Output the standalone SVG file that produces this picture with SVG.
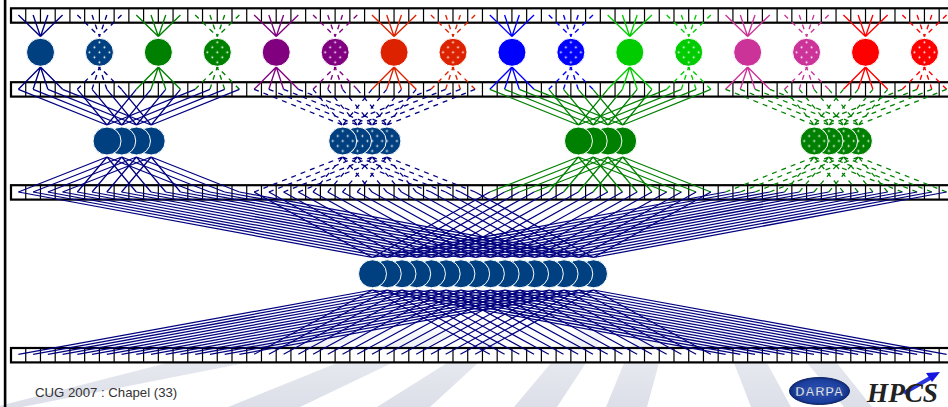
<svg xmlns="http://www.w3.org/2000/svg" xmlns:xlink="http://www.w3.org/1999/xlink" width="948" height="407" viewBox="0 0 948 407">
<style>
.l{fill:none;stroke-linecap:butt}
.fan{stroke-width:1.35}
.mid{stroke-width:1.25}
.d{stroke-dasharray:5 5}
.cell{fill:#fff;stroke:#000;stroke-width:2.2}
.v{stroke:#000;stroke-width:14.4;stroke-dasharray:1.2 13.533;fill:none}
.n{stroke:#fff;stroke-width:1}
text{font-family:"Liberation Sans",Arial,sans-serif}
</style>
<defs>
<linearGradient id="ray" gradientUnits="userSpaceOnUse" x1="0" y1="407" x2="0" y2="320">
<stop offset="0" stop-color="#dcdfe8"/><stop offset=".5" stop-color="#e6e8ef"/><stop offset="1" stop-color="#fff"/>
</linearGradient>
<radialGradient id="dg" cx=".5" cy=".5" r=".55">
<stop offset="0" stop-color="#2f55b8"/><stop offset=".75" stop-color="#1c3f9e"/><stop offset="1" stop-color="#0b1f5e"/>
</radialGradient>
<pattern id="dots" patternUnits="userSpaceOnUse" width="10" height="10" x="-2.5" y="-2.5">
<circle cx="2.5" cy="2.5" r=".95" fill="#fff"/><circle cx="7.5" cy="7.5" r=".95" fill="#fff"/>
</pattern>
<path id="fan" d="M-22.1 15L0 36.5M-7.37 15L0 36.5M7.37 15L0 36.5M22.1 15L0 36.5M-22.1 89.3L0 67M-7.37 89.3L0 67M7.37 89.3L0 67M22.1 89.3L0 67"/>
<path id="m4" d="M18.4 89.3L107 125M77.33 89.3L107 125M136.26 89.3L107 125M195.19 89.3L107 125M18.4 192L107 157M77.33 192L107 157M136.26 192L107 157M195.19 192L107 157"/>
<g id="m16"><use xlink:href="#m4"/><use xlink:href="#m4" x="14.733"/><use xlink:href="#m4" x="29.466"/><use xlink:href="#m4" x="44.2"/></g>
<path id="c4" d="M18.4 192L372.5 257.5M254.13 192L372.5 257.5M489.86 192L372.5 257.5M725.6 192L372.5 257.5M18.4 354.3L372.5 290M254.13 354.3L372.5 290M489.86 354.3L372.5 290M725.6 354.3L372.5 290"/>
<g id="dn"><circle r="14" fill="currentColor" class="n"/><circle r="14" fill="url(#dots)"/></g>
<g id="sn"><circle r="14" fill="currentColor" class="n"/></g>
<g id="row"><rect class="cell" x="11" y="0" width="950" height="14.4"/><line class="v" x1="10.4" x2="948" y1="7.2" y2="7.2"/></g>
</defs>
<rect width="948" height="407" fill="#fff"/>
<g id="background" fill="url(#ray)">
<polygon points="-5,407 22,407 245,363 410,330 296,330 167,363"/>
<polygon points="228,407 300,407 392,363 462,330 421,330 337,363"/>
<polygon points="377,407 430,407 478,363 514,330 500,330 447,363"/>
<polygon points="514,407 557,407 586,363 608,330 579,330 551,363"/>
<polygon points="606,407 647,407 659,363 668,330 638,330 624,363"/>
<polygon points="751,407 791,407 767,363 749,330 721,330 734,363"/>
<polygon points="844,407 872,407 837,363 812,330 780,330 807,363"/>
</g>
<rect id="frame" x="3.8" y="0" width="2.6" height="407" fill="#000"/>
<g id="rows">
<use id="row1" xlink:href="#row" y="8.3"/>
<use id="row2" xlink:href="#row" y="82.2"/>
<use id="row3" xlink:href="#row" y="185.2"/>
<use id="row4" xlink:href="#row" y="348"/>
</g>
<g id="connectors" class="l">
<g class="fan">
<use xlink:href="#fan" x="40.5" stroke="#000080"/>
<use xlink:href="#fan" x="99.43" stroke="#000080" class="d"/>
<use xlink:href="#fan" x="158.36" stroke="#008000"/>
<use xlink:href="#fan" x="217.29" stroke="#008000" class="d"/>
<use xlink:href="#fan" x="276.22" stroke="#800080"/>
<use xlink:href="#fan" x="335.15" stroke="#800080" class="d"/>
<use xlink:href="#fan" x="394.08" stroke="#dd2200"/>
<use xlink:href="#fan" x="453.01" stroke="#dd2200" class="d"/>
<use xlink:href="#fan" x="511.94" stroke="#0000ff"/>
<use xlink:href="#fan" x="570.87" stroke="#0000ff" class="d"/>
<use xlink:href="#fan" x="629.8" stroke="#00cc00"/>
<use xlink:href="#fan" x="688.73" stroke="#00cc00" class="d"/>
<use xlink:href="#fan" x="747.66" stroke="#cc3399"/>
<use xlink:href="#fan" x="806.59" stroke="#cc3399" class="d"/>
<use xlink:href="#fan" x="865.52" stroke="#ff0000"/>
<use xlink:href="#fan" x="924.45" stroke="#ff0000" class="d"/>
</g>
<g class="mid">
<use xlink:href="#m16" x="0" stroke="#000080"/>
<use xlink:href="#m16" x="235.73" stroke="#000080" class="d"/>
<use xlink:href="#m16" x="471.46" stroke="#008000"/>
<use xlink:href="#m16" x="707.19" stroke="#008000" class="d"/>
</g>
<g class="mid" stroke="#000080">
<use xlink:href="#c4" x="0"/><use xlink:href="#c4" x="14.733"/><use xlink:href="#c4" x="29.466"/><use xlink:href="#c4" x="44.2"/>
<use xlink:href="#c4" x="58.93"/><use xlink:href="#c4" x="73.66"/><use xlink:href="#c4" x="88.4"/><use xlink:href="#c4" x="103.13"/>
<use xlink:href="#c4" x="117.86"/><use xlink:href="#c4" x="132.6"/><use xlink:href="#c4" x="147.33"/><use xlink:href="#c4" x="162.06"/>
<use xlink:href="#c4" x="176.8"/><use xlink:href="#c4" x="191.53"/><use xlink:href="#c4" x="206.26"/><use xlink:href="#c4" x="221"/>
</g>
</g>
<g id="level1">
<g id="n0" transform="translate(40.5 52.3)" color="#004080"><use xlink:href="#sn"/></g>
<g id="n1" transform="translate(99.43 52.3)" color="#004080"><use xlink:href="#dn"/></g>
<g id="n2" transform="translate(158.36 52.3)" color="#008000"><use xlink:href="#sn"/></g>
<g id="n3" transform="translate(217.29 52.3)" color="#008000"><use xlink:href="#dn"/></g>
<g id="n4" transform="translate(276.22 52.3)" color="#800080"><use xlink:href="#sn"/></g>
<g id="n5" transform="translate(335.15 52.3)" color="#800080"><use xlink:href="#dn"/></g>
<g id="n6" transform="translate(394.08 52.3)" color="#dd2200"><use xlink:href="#sn"/></g>
<g id="n7" transform="translate(453.01 52.3)" color="#dd2200"><use xlink:href="#dn"/></g>
<g id="n8" transform="translate(511.94 52.3)" color="#0000ff"><use xlink:href="#sn"/></g>
<g id="n9" transform="translate(570.87 52.3)" color="#0000ff"><use xlink:href="#dn"/></g>
<g id="n10" transform="translate(629.8 52.3)" color="#00cc00"><use xlink:href="#sn"/></g>
<g id="n11" transform="translate(688.73 52.3)" color="#00cc00"><use xlink:href="#dn"/></g>
<g id="n12" transform="translate(747.66 52.3)" color="#cc3399"><use xlink:href="#sn"/></g>
<g id="n13" transform="translate(806.59 52.3)" color="#cc3399"><use xlink:href="#dn"/></g>
<g id="n14" transform="translate(865.52 52.3)" color="#ff0000"><use xlink:href="#sn"/></g>
<g id="n15" transform="translate(924.45 52.3)" color="#ff0000"><use xlink:href="#dn"/></g>
</g>
<g id="level2">
<g id="m0" color="#004080"><use xlink:href="#sn" x="151.2" y="141"/><use xlink:href="#sn" x="136.47" y="141"/><use xlink:href="#sn" x="121.73" y="141"/><use xlink:href="#sn" x="107" y="141"/></g>
<g id="m1" color="#004080"><use xlink:href="#dn" x="386.93" y="141"/><use xlink:href="#dn" x="372.2" y="141"/><use xlink:href="#dn" x="357.46" y="141"/><use xlink:href="#dn" x="342.73" y="141"/></g>
<g id="m2" color="#008000"><use xlink:href="#sn" x="622.66" y="141"/><use xlink:href="#sn" x="607.93" y="141"/><use xlink:href="#sn" x="593.2" y="141"/><use xlink:href="#sn" x="578.46" y="141"/></g>
<g id="m3" color="#008000"><use xlink:href="#dn" x="858.39" y="141"/><use xlink:href="#dn" x="843.66" y="141"/><use xlink:href="#dn" x="828.93" y="141"/><use xlink:href="#dn" x="814.19" y="141"/></g>
</g>
<g id="level3" color="#004080">
<use xlink:href="#sn" x="593.5" y="273.8"/><use xlink:href="#sn" x="578.77" y="273.8"/><use xlink:href="#sn" x="564.04" y="273.8"/><use xlink:href="#sn" x="549.3" y="273.8"/>
<use xlink:href="#sn" x="534.57" y="273.8"/><use xlink:href="#sn" x="519.84" y="273.8"/><use xlink:href="#sn" x="505.1" y="273.8"/><use xlink:href="#sn" x="490.37" y="273.8"/>
<use xlink:href="#sn" x="475.64" y="273.8"/><use xlink:href="#sn" x="460.9" y="273.8"/><use xlink:href="#sn" x="446.17" y="273.8"/><use xlink:href="#sn" x="431.44" y="273.8"/>
<use xlink:href="#sn" x="416.7" y="273.8"/><use xlink:href="#sn" x="401.97" y="273.8"/><use xlink:href="#sn" x="387.24" y="273.8"/><use xlink:href="#sn" x="372.5" y="273.8"/>
</g>
<text id="footer" x="35" y="396.5" font-size="13.2" fill="#333">CUG 2007 : Chapel (33)</text>
<g id="darpa">
<ellipse cx="819.5" cy="391" rx="30" ry="13.5" fill="url(#dg)" stroke="#0d2468" stroke-width="1"/>
<text x="819.5" y="395.5" font-size="13" font-weight="bold" text-anchor="middle" fill="#dfe7f7" stroke="#10286e" stroke-width=".4" letter-spacing=".6">DARPA</text>
</g>
<g id="hpcs">
<line x1="904" y1="393" x2="932" y2="377" stroke="#2a35e0" stroke-width="4"/>
<polygon points="940,372 932,382 926,373" fill="#1515e0"/>
<text x="867" y="402" font-size="27" font-weight="bold" font-style="italic" fill="#222" textLength="71" lengthAdjust="spacingAndGlyphs" style="font-family:'Liberation Serif',serif">HPCS</text>
</g>
</svg>
